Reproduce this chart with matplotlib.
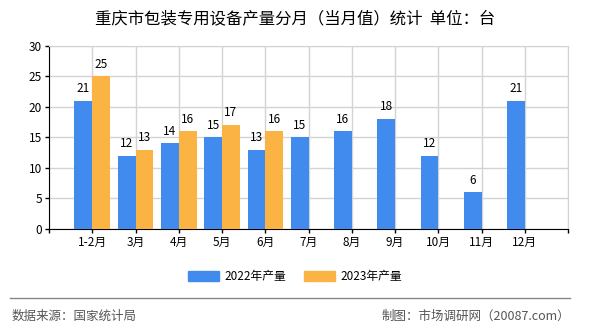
import numpy as np
import matplotlib.pyplot as plt
from matplotlib.patches import Patch
from matplotlib.lines import Line2D

plt.rcParams['font.family'] = ['Noto Sans CJK SC', 'DejaVu Sans']

months = ['1-2月', '3月', '4月', '5月', '6月', '7月', '8月', '9月', '10月', '11月', '12月']
output_2022 = [21, 12, 14, 15, 13, 15, 16, 18, 12, 6, 21]
output_2023 = [25, 13, 16, 17, 16]

blue = '#418BEE'
orange = '#FBB443'

fig = plt.figure(figsize=(5.9, 3.3), dpi=100)
ax = fig.add_axes([0.083, 0.306, 0.880, 0.556])

x = np.arange(len(months))
w = 0.41
b1 = ax.bar(x[:len(output_2022)] - w / 2, output_2022, w, color=blue, zorder=3)
b2 = ax.bar(x[:len(output_2023)] + w / 2, output_2023, w, color=orange, zorder=3)

for bars, vals in ((b1, output_2022), (b2, output_2023)):
    for r, v in zip(bars, vals):
        ax.annotate(str(v), (r.get_x() + r.get_width() / 2, v), xytext=(0, 4),
                    textcoords='offset points', ha='center', va='bottom', fontsize=8.5)

ax.set_xlim(-1, len(months))
ax.set_ylim(0, 30)
ax.set_yticks(range(0, 31, 5))
ax.set_xticks(np.arange(-1, len(months) + 1))
ax.set_xticklabels([''] + months + [''])
ax.tick_params(axis='both', labelsize=8.5, length=3, width=1, pad=2)
ax.grid(True, color='#d3d3d3', linewidth=1, zorder=0)

for s in ('top', 'right'):
    ax.spines[s].set_color('#d3d3d3')
for s in ('left', 'bottom'):
    ax.spines[s].set_color('black')

fig.text(0.5, 0.942, '重庆市包装专用设备产量分月（当月值）统计  单位：台',
         ha='center', va='center', fontsize=11.8)

handles = [Patch(color=blue), Patch(color=orange)]
fig.legend(handles, ['2022年产量', '2023年产量'], loc='center', bbox_to_anchor=(0.5, 0.163),
           ncol=2, frameon=False, fontsize=8.5, handlelength=2.6, handleheight=0.9,
           columnspacing=1.5, handletextpad=0.5)

fig.add_artist(Line2D([0.017, 0.966], [0.097, 0.097], color='#888888', linewidth=1))
fig.text(0.02, 0.042, '数据来源：国家统计局', ha='left', va='center', fontsize=9, color='#555555')
fig.text(0.966, 0.042, '制图：市场调研网（20087.com）', ha='right', va='center', fontsize=9, color='#555555')

fig.savefig('out.png', dpi=100)
